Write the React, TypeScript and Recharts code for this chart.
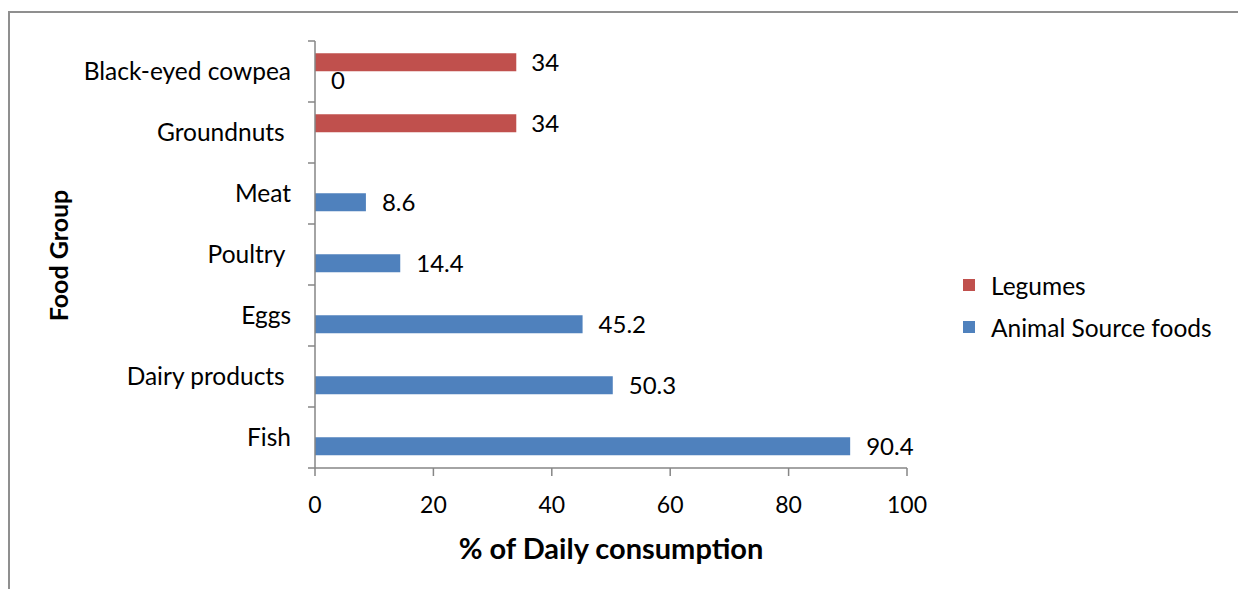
import React from 'react';
import { BarChart, Bar, XAxis, YAxis, LabelList, Label, Legend } from 'recharts';

const categories = ['Black-eyed cowpea', 'Groundnuts ', 'Meat', 'Poultry ', 'Eggs', 'Dairy products ', 'Fish'];
const legumes: (number | null)[] = [34, 34, null, null, null, null, null];
const animalSource: (number | null)[] = [0, null, 8.6, 14.4, 45.2, 50.3, 90.4];
const xTicks = [0, 20, 40, 60, 80, 100];
const seriesNames = ['Legumes', 'Animal Source foods'];
const seriesColors = ['#C0504D', '#4F81BD'];
const xTitle = '% of Daily consumption';
const yTitle = 'Food Group';

const data = categories.map((c, i) => ({ name: c, legumes: legumes[i], animal: animalSource[i] }));

const FONT = 'Lato, "Open Sans", sans-serif';
const AXIS_COLOR = '#868686';
const Y_TICK_SIZE = 7;
const Y_TICK_MARGIN = 17;

function CategoryTick(props: any) {
  const { x, y, payload } = props;
  const off = payload && payload.offset ? payload.offset : 0;
  const x1 = x + Y_TICK_MARGIN;
  const x2 = x1 + Y_TICK_SIZE;
  const isLast = payload.value === categories[categories.length - 1];
  return (
    <g>
      <line x1={x1} x2={x2} y1={y - off} y2={y - off} stroke={AXIS_COLOR} strokeWidth={1.5} />
      {isLast && <line x1={x1} x2={x2} y1={y + off} y2={y + off} stroke={AXIS_COLOR} strokeWidth={1.5} />}
      <text
        x={x}
        y={y}
        dy="0.355em"
        textAnchor="end"
        fill="#000"
        fontSize={24.5}
        fontFamily={FONT}
        style={{ whiteSpace: 'pre' }}
      >
        {payload.value}
      </text>
    </g>
  );
}

function LegendContent(props: any) {
  const payload = props.payload || [];
  const ordered = seriesNames
    .map((n) => payload.find((p: any) => p.value === n))
    .filter(Boolean);
  return (
    <div style={{ fontFamily: FONT, fontSize: 24.5, color: '#000' }}>
      {ordered.map((p: any) => (
        <div key={p.value} style={{ display: 'flex', alignItems: 'center', height: 42, whiteSpace: 'nowrap' }}>
          <span style={{ display: 'inline-block', width: 12, height: 12, background: p.color, marginRight: 16 }} />
          <span>{p.value}</span>
        </div>
      ))}
    </div>
  );
}

const zeroVisible = (value: any) => (value === 0 ? 0.01 : 0);

export default function App() {
  return (
    <div style={{ position: 'fixed', left: 0, top: 0, width: 1238, height: 589, overflow: 'hidden', background: '#fff' }}>
      <div
        style={{
          position: 'absolute',
          left: 8,
          top: 11,
          width: 1300,
          height: 700,
          border: '2px solid #8f8f8f',
          boxSizing: 'border-box',
        }}
      />
      <div style={{ position: 'absolute', left: 0, top: 0 }}>
        <BarChart
          width={1238}
          height={589}
          layout="vertical"
          data={data}
          margin={{ top: 41, right: 331, bottom: 0, left: 0 }}
          barGap={0}
          barCategoryGap="20%"
          style={{ fontFamily: FONT }}
        >
          <XAxis
            type="number"
            domain={[0, 100]}
            ticks={xTicks}
            height={121}
            tickSize={8}
            tickMargin={21}
            axisLine={{ stroke: AXIS_COLOR, strokeWidth: 1.5 }}
            tickLine={{ stroke: AXIS_COLOR, strokeWidth: 1.5 }}
            tick={{ fill: '#000', fontSize: 23, fontFamily: FONT }}
          >
            <Label
              content={(p: any) => {
                const vb = p.viewBox || { x: 315, y: 468, width: 592 };
                return (
                  <text
                    x={vb.x + vb.width / 2}
                    y={vb.y + 91}
                    textAnchor="middle"
                    fontWeight="bold"
                    fontSize={29}
                    fontFamily={FONT}
                    fill="#000"
                  >
                    {xTitle}
                  </text>
                );
              }}
            />
          </XAxis>
          <YAxis
            type="category"
            dataKey="name"
            width={315}
            tickSize={Y_TICK_SIZE}
            tickMargin={Y_TICK_MARGIN}
            tickLine={false}
            axisLine={{ stroke: AXIS_COLOR, strokeWidth: 1.5 }}
            tick={<CategoryTick />}
            interval={0}
          >
            <Label
              content={(p: any) => {
                const vb = p.viewBox || { x: 0, y: 41, height: 427 };
                const cx = vb.x + 68;
                const cy = vb.y + vb.height / 2 + 1;
                return (
                  <text
                    x={cx}
                    y={cy}
                    transform={`rotate(-90, ${cx}, ${cy})`}
                    textAnchor="middle"
                    fontWeight="bold"
                    fontSize={25}
                    fontFamily={FONT}
                    fill="#000"
                  >
                    {yTitle}
                  </text>
                );
              }}
            />
          </YAxis>
          <Legend
            layout="vertical"
            align="center"
            verticalAlign="middle"
            wrapperStyle={{ left: 963, top: 264, width: 270 }}
            content={<LegendContent />}
          />
          <Bar dataKey="legumes" name={seriesNames[0]} fill={seriesColors[0]} isAnimationActive={false}>
            <LabelList dataKey="legumes" position="right" offset={15} fill="#000" fontSize={24} fontFamily={FONT} />
          </Bar>
          <Bar
            dataKey="animal"
            name={seriesNames[1]}
            fill={seriesColors[1]}
            minPointSize={zeroVisible}
            isAnimationActive={false}
          >
            <LabelList dataKey="animal" position="right" offset={16} fill="#000" fontSize={24} fontFamily={FONT} />
          </Bar>
        </BarChart>
      </div>
    </div>
  );
}
